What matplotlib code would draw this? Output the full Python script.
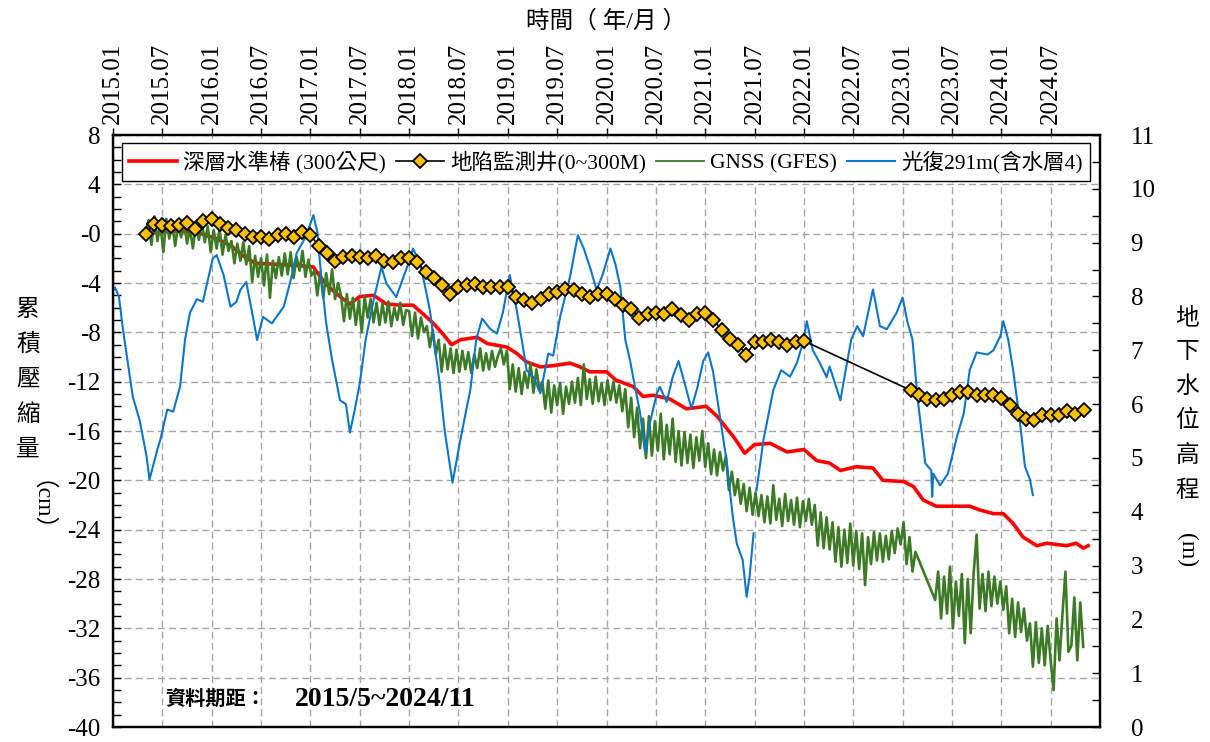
import numpy as np
import matplotlib.pyplot as plt
from matplotlib.ticker import MultipleLocator

plt.rcParams['font.family'] = ['Liberation Serif', 'Noto Sans CJK TC']
plt.rcParams['axes.unicode_minus'] = False

# top axis: every half year
tick_years = [2015.0, 2015.5, 2016.0, 2016.5, 2017.0, 2017.5, 2018.0, 2018.5, 2019.0, 2019.5,
              2020.0, 2020.5, 2021.0, 2021.5, 2022.0, 2022.5, 2023.0, 2023.5, 2024.0, 2024.5]
tick_labels = ['2015.01', '2015.07', '2016.01', '2016.07', '2017.01', '2017.07', '2018.01',
               '2018.07', '2019.01', '2019.07', '2020.01', '2020.07', '2021.01', '2021.07',
               '2022.01', '2022.07', '2023.01', '2023.07', '2024.01', '2024.07']
left_ticks = [-40, -36, -32, -28, -24, -20, -16, -12, -8, -4, 0, 4, 8]
left_labels = ['-40', '-36', '-32', '-28', '-24', '-20', '-16', '-12', '-8', '-4', '-0', '4', '8']
right_ticks = [0, 1, 2, 3, 4, 5, 6, 7, 8, 9, 10, 11]

# 深層水準樁 (cm)
red_t = [2015.33, 2015.60, 2015.85, 2016.05, 2016.20, 2016.35, 2016.45, 2016.70, 2016.90, 2017.03,
         2017.10, 2017.17, 2017.30, 2017.40, 2017.50, 2017.64, 2017.77, 2017.91, 2018.04, 2018.14,
         2018.25, 2018.35, 2018.43, 2018.52, 2018.69, 2018.79, 2018.99, 2019.09, 2019.19, 2019.33,
         2019.46, 2019.63, 2019.73, 2019.83, 2020.00, 2020.10, 2020.14, 2020.27, 2020.37, 2020.47,
         2020.64, 2020.81, 2021.01, 2021.12, 2021.29, 2021.40, 2021.50, 2021.66, 2021.83, 2022.00,
         2022.13, 2022.26, 2022.37, 2022.53, 2022.70, 2022.80, 2023.01, 2023.11, 2023.21, 2023.34,
         2023.51, 2023.68, 2023.78, 2023.92, 2024.02, 2024.12, 2024.22, 2024.36, 2024.46, 2024.66,
         2024.76, 2024.83, 2024.88]
red_v = [0.0, 0.2, 0.1, -0.4, -1.0, -2.0, -2.4, -2.5, -2.6, -2.7,
         -3.5, -4.2, -5.1, -5.7, -5.1, -5.0, -5.7, -5.8, -5.8, -6.5,
         -7.3, -8.2, -9.0, -8.6, -8.4, -8.9, -9.2, -9.7, -10.4, -10.8,
         -10.7, -10.5, -10.8, -11.2, -11.2, -11.9, -12.0, -12.4, -13.2, -13.1,
         -13.4, -14.2, -14.0, -14.8, -16.5, -17.8, -17.1, -17.0, -17.7, -17.5,
         -18.4, -18.6, -19.2, -18.9, -19.0, -20.0, -20.1, -20.5, -21.6, -22.1,
         -22.1, -22.1, -22.4, -22.7, -22.7, -23.5, -24.6, -25.3, -25.1, -25.3,
         -25.1, -25.5, -25.3]

# 地陷監測井 (cm), monthly
well_start_1 = 2015 + 4 / 12   # 2015/05
well_v_1 = [0.0, 0.8, 0.7, 0.6, 0.7, 0.9, 0.4, 1.0, 1.2, 0.8,
            0.5, 0.3, 0.0, -0.3, -0.3, -0.4, -0.1, 0.0, -0.3, 0.1,
            -0.1, -1.0, -1.6, -2.2, -1.9, -1.8, -1.9, -2.0, -1.8, -2.2,
            -2.3, -2.0, -2.0, -2.3, -3.1, -3.6, -4.2, -4.9, -4.3, -4.2,
            -4.1, -4.3, -4.3, -4.3, -4.3, -5.1, -5.4, -5.6, -5.3, -4.9,
            -4.7, -4.5, -4.6, -4.9, -5.1, -4.9, -4.9, -5.3, -5.8, -6.1,
            -6.8, -6.5, -6.4, -6.5, -6.1, -6.6, -7.0, -6.5, -6.4, -7.0,
            -7.8, -8.5, -9.0, -9.8, -8.8, -8.8, -8.6, -8.8, -9.0, -8.8,
            -8.7]
well_start_2 = 2023 + 1 / 12   # 2023/02
well_v_2 = [-12.7, -13.1, -13.4, -13.5, -13.4, -13.1, -12.8, -12.8, -13.1, -13.1,
            -13.1, -13.3, -13.9, -14.6, -15.0, -15.1, -14.7, -14.7, -14.7, -14.4,
            -14.6, -14.3]

# GNSS (cm), two pieces with a gap in 2023
gnss_start_1, gnss_start_2, gnss_step = 2015.33, 2023.33, 0.03
gnss_v_1 = [
    0.0, 1.1, -0.9, 1.4, -0.6, 0.8, -1.5, 1.2, -0.4, 0.9,
    -1.0, 0.7, -0.3, 1.1, -0.8, 0.4, -1.2, 0.9, -0.5, 1.0,
    -0.7, 0.6, -1.5, 0.3, -1.2, 0.4, -1.7, -0.1, -1.4, -0.6,
    -2.4, -0.8, -2.2, -0.7, -2.5, -1.0, -3.9, -1.8, -3.5, -2.0,
    -4.2, -1.7, -5.2, -2.2, -3.6, -1.9, -3.4, -1.6, -3.3, -1.5,
    -3.6, -1.9, -3.0, -1.4, -3.5, -2.1, -3.4, -3.0, -5.0, -3.1,
    -5.2, -3.2, -4.9, -2.9, -5.3, -4.0, -5.0, -7.1, -4.9, -6.9,
    -5.2, -7.4, -5.4, -8.0, -5.1, -6.8, -5.3, -7.2, -5.6, -7.4,
    -5.7, -7.2, -5.5, -7.5, -6.0, -7.0, -5.6, -7.4, -6.2, -6.3,
    -8.3, -6.4, -8.5, -6.8, -8.0, -7.5, -9.2, -7.8, -9.8, -8.6,
    -11.2, -9.0, -11.0, -9.3, -11.3, -9.4, -11.2, -9.5, -11.0, -9.6,
    -11.3, -9.8, -10.9, -9.3, -11.1, -9.7, -11.0, -9.5, -10.8, -9.9,
    -9.3, -10.6, -9.5, -12.6, -10.6, -12.8, -10.9, -13.0, -11.2, -12.5,
    -10.5, -12.9, -11.0, -12.6, -12.0, -14.2, -11.9, -14.5, -12.3, -13.9,
    -12.1, -14.6, -12.4, -13.8, -12.0, -13.7, -11.7, -13.9, -10.6, -13.4,
    -11.8, -13.8, -11.6, -13.6, -12.1, -13.9, -11.9, -13.5, -12.0, -13.7,
    -12.3, -14.4, -12.6, -15.7, -13.3, -16.5, -14.1, -17.4, -15.0, -18.2,
    -14.8, -18.0, -15.2, -17.6, -14.6, -18.3, -15.5, -17.9, -15.0, -18.5,
    -16.0, -18.8, -16.1, -18.6, -16.3, -19.0, -16.5, -18.4, -16.0, -18.9,
    -17.0, -19.5, -17.5, -19.6, -17.7, -19.2, -18.0, -20.8, -19.3, -21.2,
    -19.9, -21.9, -20.3, -22.5, -20.6, -22.8, -21.0, -22.9, -21.2, -23.4,
    -21.3, -23.5, -20.4, -23.2, -21.5, -23.7, -21.1, -23.3, -21.6, -23.6,
    -21.4, -23.8, -21.7, -23.3, -21.5, -23.6, -22.0, -25.3, -22.6, -25.5,
    -23.0, -25.6, -23.4, -26.6, -23.8, -27.0, -24.0, -26.7, -23.5, -26.9,
    -24.1, -27.2, -24.3, -28.5, -24.6, -26.8, -24.2, -26.5, -24.3, -26.6,
    -24.5, -26.4, -24.1, -25.9, -23.9, -25.2, -23.4, -26.8, -24.6, -27.4, -25.8]
gnss_v_2 = [
    -29.7, -27.4, -31.2, -27.8, -30.8, -27.0, -32.0, -28.2, -31.0, -27.6,
    -33.2, -28.0, -32.4, -27.5, -24.4, -30.4, -27.6, -30.6, -27.4, -30.2,
    -27.8, -30.0, -28.2, -30.5, -28.6, -32.4, -29.6, -32.7, -29.9, -32.3,
    -30.4, -33.0, -31.6, -35.1, -31.5, -34.8, -32.0, -35.0, -31.8, -34.6,
    -37.0, -31.2, -34.6, -30.8, -27.4, -33.9, -33.4, -29.5, -34.6, -29.9,
    -33.5]

# 光復291m 地下水位 (m), nan = gap
blue_t = [2015.00, 2015.02, 2015.06, 2015.10, 2015.20, 2015.27, 2015.34, 2015.37, 2015.45, 2015.48,
          2015.55, 2015.61, 2015.68, 2015.73, 2015.78, 2015.85, 2015.91, 2016.01, 2016.05, 2016.12,
          2016.19, 2016.25, 2016.29, 2016.35, 2016.42, 2016.46, 2016.52, 2016.61, 2016.73, 2016.80,
          2016.86, 2016.95, 2017.03, 2017.07, 2017.11, 2017.16, 2017.22, 2017.30, 2017.36, 2017.40,
          2017.45, 2017.50, 2017.56, 2017.64, 2017.72, 2017.77, 2017.87, 2017.98, 2018.04, 2018.11,
          2018.16, 2018.21, 2018.31, 2018.36, 2018.44, 2018.52, 2018.58, 2018.62, 2018.68, 2018.74,
          2018.82, 2018.89, 2018.95, 2019.02, 2019.09, 2019.15, 2019.19, 2019.26, 2019.33, 2019.41,
          2019.46, 2019.53, 2019.63, 2019.71, 2019.77, 2019.84, 2019.90, 2019.96, 2020.04, 2020.09,
          2020.14, 2020.19, 2020.24, 2020.27, 2020.34, 2020.39, 2020.44, 2020.51, 2020.54, 2020.61,
          2020.67, 2020.73, 2020.79, 2020.86, 2020.92, 2020.98, 2021.03, 2021.08, 2021.15, 2021.22,
          2021.28, 2021.32, 2021.38, 2021.42, 2021.45, 2021.49, 2021.505, 2021.52, 2021.59, 2021.69,
          2021.77, 2021.86, 2021.93, 2021.99, 2022.03, 2022.09, 2022.16, 2022.23, 2022.26, 2022.37,
          2022.43, 2022.48, 2022.54, 2022.60, 2022.70, 2022.77, 2022.84, 2022.94, 2023.00, 2023.05,
          2023.10, 2023.15, 2023.23, 2023.29, 2023.30, 2023.31, 2023.38, 2023.46, 2023.55, 2023.62,
          2023.68, 2023.75, 2023.86, 2023.92, 2023.99, 2024.02, 2024.07, 2024.12, 2024.18, 2024.24,
          2024.29, 2024.32]
blue_v = [8.10, 8.17, 8.00, 7.40, 6.14, 5.70, 5.03, 4.60, 5.16, 5.34,
          5.90, 5.86, 6.33, 7.20, 7.70, 7.95, 7.90, 8.70, 8.77, 8.40,
          7.81, 7.90, 8.12, 8.27, 7.60, 7.19, 7.62, 7.50, 7.81, 8.30,
          8.80, 9.10, 9.51, 9.20, 8.36, 7.50, 6.82, 6.07, 6.00, 5.47,
          5.90, 6.38, 7.20, 7.93, 8.55, 8.24, 7.99, 8.55, 8.89, 8.61,
          8.20, 7.75, 6.38, 5.51, 4.54, 5.34, 5.90, 6.26, 7.20, 7.59,
          7.40, 7.31, 7.70, 8.40, 7.75, 7.10, 6.63, 6.50, 6.20, 6.94,
          6.90, 7.62, 8.36, 9.14, 8.89, 8.50, 8.12, 8.40, 8.89, 8.60,
          8.18, 7.20, 6.80, 6.50, 5.84, 5.10, 5.65, 6.20, 6.32, 6.04,
          6.50, 6.80, 6.40, 5.92, 6.30, 6.80, 6.96, 6.60, 5.76, 4.90,
          3.90, 3.41, 3.10, 2.42, 2.80, 3.60, np.nan, 4.40, 5.33, 6.26,
          6.63, 6.51, 6.77, 7.14, 7.54, 7.00, 6.77, 6.50, 6.70, 6.07,
          6.70, 7.20, 7.45, 7.26, 8.13, 7.45, 7.39, 7.70, 7.98, 7.52,
          7.20, 6.14, 4.90, 4.77, 4.28, 4.71, 4.49, 4.71, 5.39, 5.83,
          6.63, 6.96, 6.92, 7.00, 7.26, 7.54, 7.20, 6.63, 5.80, 4.84,
          4.60, 4.31]

well_t = np.concatenate([well_start_1 + np.arange(len(well_v_1)) / 12,
                         well_start_2 + np.arange(len(well_v_2)) / 12])
well_v = well_v_1 + well_v_2
gnss_t = np.concatenate([gnss_start_1 + gnss_step * np.arange(len(gnss_v_1)),
                         gnss_start_2 + gnss_step * np.arange(len(gnss_v_2))])
gnss_v = gnss_v_1 + gnss_v_2

fig = plt.figure(figsize=(12.1, 7.42), dpi=100)
ax = fig.add_axes([113 / 1210, 15 / 742, 987 / 1210, 592 / 742])

red_line, = ax.plot(red_t, red_v, color='#FF0000', lw=2.6, zorder=2)
green_line, = ax.plot(gnss_t, gnss_v, color='#3D7A25', lw=1.9, zorder=3)

ax2 = ax.twinx()
blue_line, = ax2.plot(blue_t, blue_v, color='#0F75C6', lw=1.5)

ax3 = ax.twinx()
well_line, = ax3.plot(well_t, well_v, color='black', lw=1.2, marker='D', ms=6.8,
                      mfc='#FFC000', mec='black', mew=1.3)
ax3.set_ylim(-40, 8)
ax3.axis('off')

ax.set_xlim(2015, 2025)
ax.set_ylim(-40, 8)
ax.xaxis.tick_top()
ax.set_xticks(tick_years)
ax.set_xticklabels(tick_labels, rotation=90, fontsize=18)
ax.tick_params(axis='x', direction='out', length=5, width=1, pad=3)
ax.set_yticks(left_ticks)
ax.set_yticklabels(left_labels, fontsize=18)
ax.yaxis.set_minor_locator(MultipleLocator(1))
ax.tick_params(axis='y', which='both', direction='in', length=6, width=1, pad=9)
ax.grid(True, which='major', color='#A6A6A6', linestyle=(0, (5, 3)), linewidth=1.0)
ax.set_axisbelow(True)

ax2.set_ylim(0, 11)
ax2.set_yticks(right_ticks)
ax2.set_yticklabels([str(v) for v in right_ticks], fontsize=18)
ax2.yaxis.set_minor_locator(MultipleLocator(0.5))
ax2.tick_params(axis='y', which='both', direction='in', length=6, width=1, pad=22)

for a in (ax, ax2):
    for s in a.spines.values():
        s.set_linewidth(1.6)

leg = ax3.legend([red_line, well_line, green_line, blue_line],
                 ['深層水準椿 (300公尺)', '地陷監測井(0~300M)', 'GNSS (GFES)', '光復291m(含水層4)'],
                 loc='upper left', bbox_to_anchor=(0.009, 0.9865, 0.981, 0), mode='expand',
                 ncol=4, fontsize=15.5, frameon=True, fancybox=False, framealpha=1,
                 edgecolor='black', borderaxespad=0, handlelength=2.2, handletextpad=0.3,
                 columnspacing=0.8, borderpad=0.35)
leg.get_frame().set_linewidth(1.0)
leg.get_lines()[2].set_linewidth(1.3)

ax.text(0.053, 0.046, '資料期距：', transform=ax.transAxes, fontsize=14.5,
        fontweight='bold', va='center', ha='left')
ax.text(0.184, 0.046, '2015/5~2024/11', transform=ax.transAxes, fontsize=20,
        fontweight='bold', va='center', ha='left')

fig.text(606 / 1210, 1 - 22 / 742, '時間（ 年/月 ）', ha='center', va='center', fontsize=17)

for ch, y in zip('累積壓縮量', [310, 345, 380, 415, 450]):
    fig.text(28 / 1210, 1 - y / 742, ch, ha='center', va='center', fontsize=17)
fig.text(28 / 1210, 1 - 518 / 742, '（cm）', ha='center', va='center', fontsize=17, rotation=-90)

for ch, y in zip('地下水位高程', [319, 353, 387, 421, 456, 491]):
    fig.text(1187 / 1210, 1 - y / 742, ch, ha='center', va='center', fontsize=17)
fig.text(1187 / 1210, 1 - 550 / 742, '(m)', ha='center', va='center', fontsize=17, rotation=-90)

fig.savefig('out.png', dpi=100)
